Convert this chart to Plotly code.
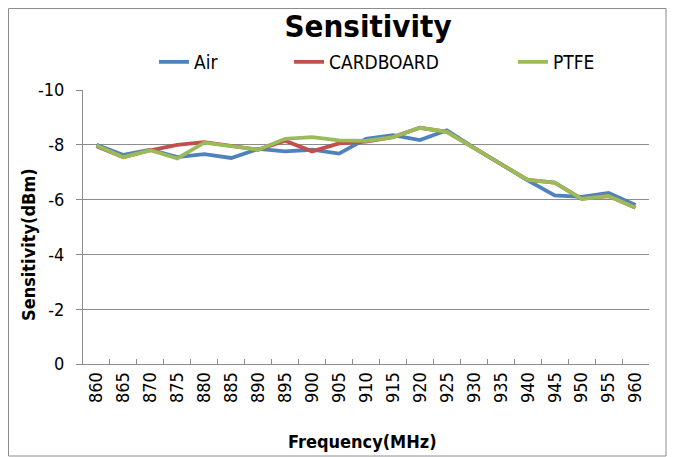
import plotly.graph_objects as go

freqs = [860, 865, 870, 875, 880, 885, 890, 895, 900, 905, 910,
         915, 920, 925, 930, 935, 940, 945, 950, 955, 960]
air = [-8.00, -7.63, -7.82, -7.55, -7.66, -7.52, -7.85, -7.76, -7.82, -7.68, -8.22,
       -8.35, -8.17, -8.53, -7.90, -7.28, -6.70, -6.15, -6.10, -6.24, -5.80]
cardboard = [-7.95, -7.55, -7.80, -8.00, -8.10, -7.96, -7.82, -8.15, -7.76, -8.05, -8.12,
             -8.28, -8.62, -8.47, -7.88, -7.30, -6.72, -6.62, -6.03, -6.13, -5.70]
ptfe = [-7.97, -7.55, -7.80, -7.50, -8.08, -7.96, -7.82, -8.22, -8.28, -8.16, -8.14,
        -8.28, -8.62, -8.47, -7.88, -7.30, -6.72, -6.62, -6.03, -6.13, -5.70]
y_ticks = [0, -2, -4, -6, -8, -10]

series = [("Air", air, "#4F81BD", "legend"),
          ("CARDBOARD", cardboard, "#C0504D", "legend2"),
          ("PTFE", ptfe, "#9BBB59", "legend3")]

# The page body has an 8px margin; the figure is sized/offset to compensate.
OFF = 8
W, H = 680 - OFF, 457 - OFF
PL, PR, PT, PB = 83, 649, 90, 364          # plot area in window pixels
PW, PH = PR - PL, PB - PT


def px(wx):
    return (wx - PL) / PW


def py(wy):
    return (PB - wy) / PH


cats = [str(f) for f in freqs]
fig = go.Figure()
for name, vals, col, lg in series:
    fig.add_trace(go.Scatter(x=cats, y=vals, mode="lines", name=name,
                             line=dict(color=col, width=3.8), legend=lg))

GRID = "#8C8C8C"
COND = "Liberation Sans Narrow, DejaVu Sans Condensed, Liberation Sans, sans-serif"
TICKFONT = dict(family=COND, size=18, color="#000000")
LEGFONT = dict(family=COND, size=19, color="#000000")

leg_common = dict(orientation="h", yanchor="middle", y=py(62), xanchor="left",
                  bgcolor="rgba(0,0,0,0)", font=LEGFONT, borderwidth=0)
fig.update_layout(
    width=W, height=H,
    margin=dict(l=PL - OFF, r=W - (PR - OFF), t=PT - OFF, b=H - (PB - OFF)),
    paper_bgcolor="white", plot_bgcolor="white",
    title=dict(text="<b>Sensitivity</b>", x=(368 - OFF) / W, xanchor="center",
               y=1 - (26 - OFF) / H, yanchor="middle",
               font=dict(family=COND, size=31, color="#000000")),
    legend=dict(x=px(154), **leg_common),
    legend2=dict(x=px(289), **leg_common),
    legend3=dict(x=px(513), **leg_common),
    showlegend=True,
    xaxis=dict(type="category", tickson="boundaries", ticks="inside", ticklen=5,
               tickcolor=GRID, showline=True, linecolor=GRID, linewidth=1,
               showgrid=False, tickangle=-90, tickfont=TICKFONT,
               range=[-0.5, len(cats) - 0.5]),
    yaxis=dict(range=[0, -10], tickvals=y_ticks, ticktext=[str(v) for v in y_ticks],
               ticks="outside", ticklen=6, tickcolor=GRID,
               showline=True, linecolor=GRID, linewidth=1,
               showgrid=True, gridcolor=GRID, gridwidth=1, zeroline=False,
               tickfont=TICKFONT, ticklabelstandoff=8),
    annotations=[
        dict(text="<b>Frequency(MHz)</b>", xref="paper", yref="paper",
             x=px(362), y=py(441), xanchor="center", yanchor="middle",
             showarrow=False, font=dict(family=COND, size=18, color="#000000")),
        dict(text="<b>Sensitivity(dBm)</b>", xref="paper", yref="paper",
             x=px(28), y=py(245), xanchor="center", yanchor="middle",
             textangle=-90, showarrow=False,
             font=dict(family=COND, size=18, color="#000000")),
    ],
    shapes=[dict(type="rect", xref="paper", yref="paper",
                 x0=px(8.5), x1=px(666),
                 y0=py(456), y1=py(8.5),
                 line=dict(color=GRID, width=1), fillcolor="rgba(0,0,0,0)", layer="below")],
)

fig.write_html("out.html")
